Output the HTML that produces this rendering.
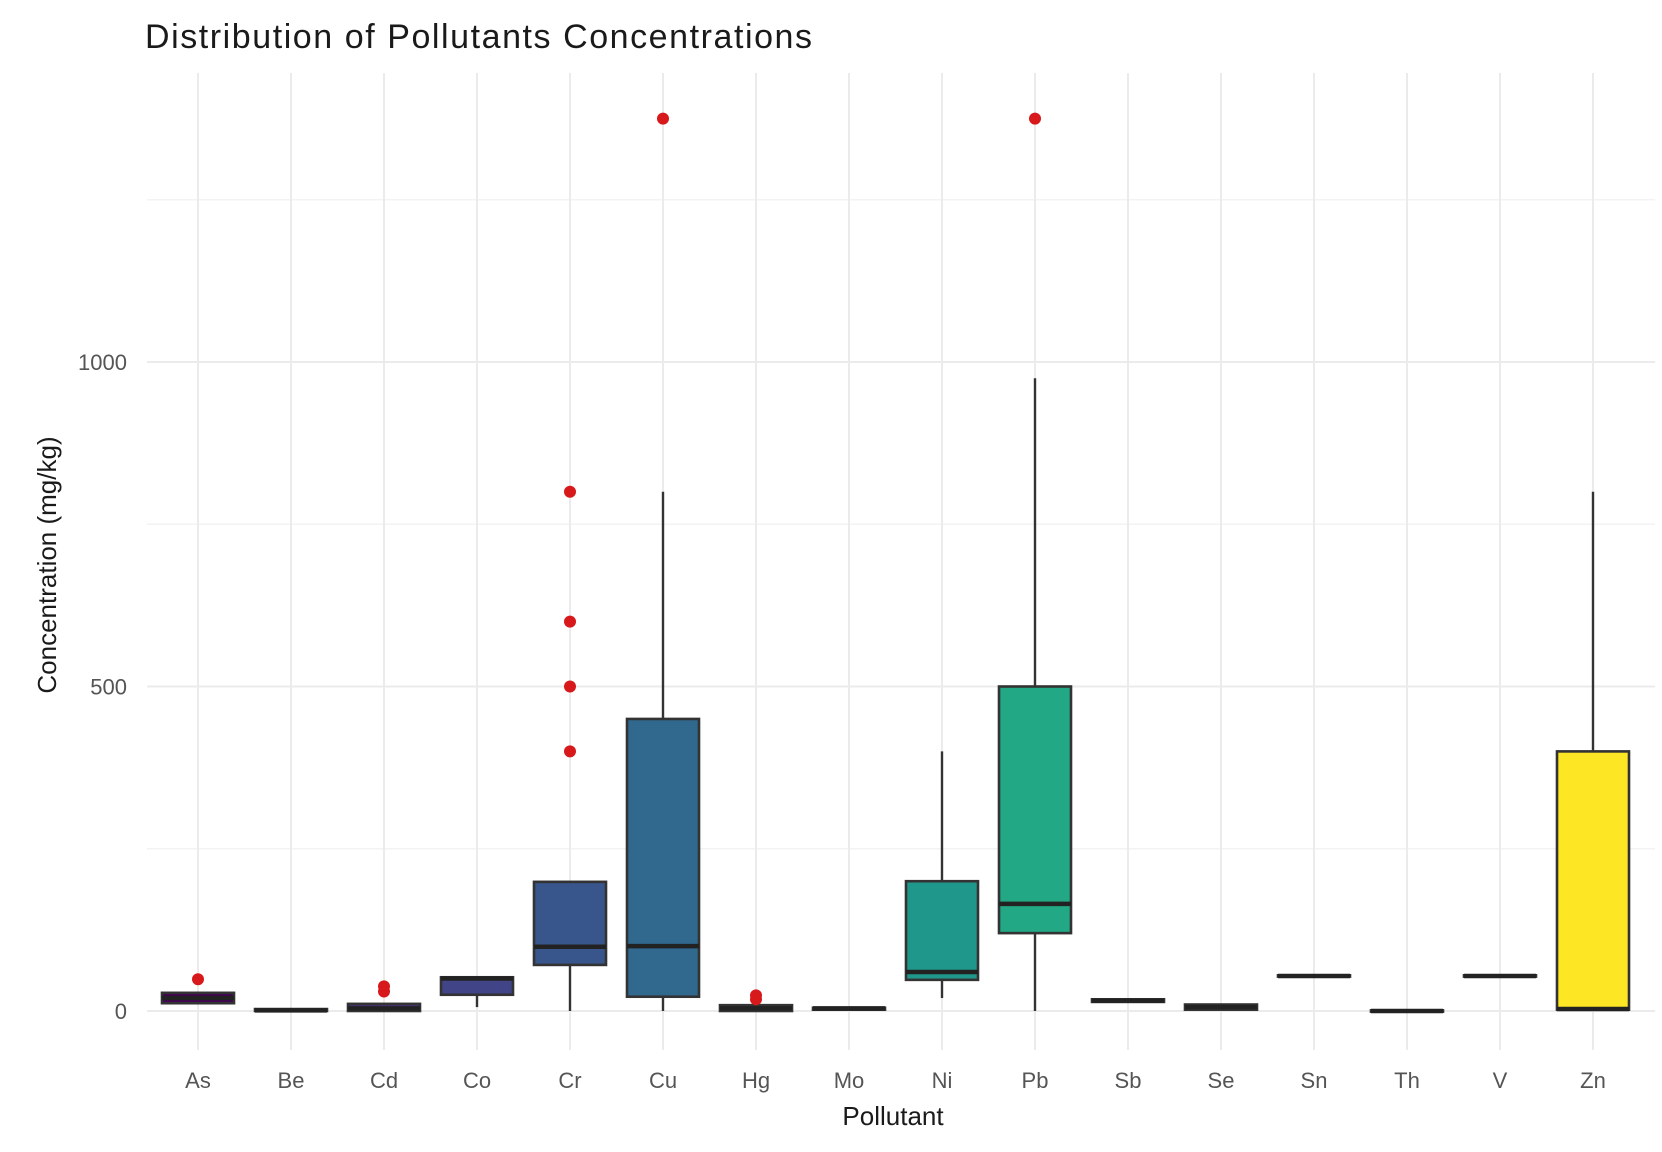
<!DOCTYPE html>
<html><head><meta charset="utf-8"><style>
html,body{margin:0;padding:0;background:#fff;}
svg{display:block;font-family:"Liberation Sans",sans-serif;}
</style></head><body>
<svg id="chart" width="1662" height="1152" viewBox="0 0 1662 1152">
<text x="145" y="48" font-size="34" fill="#1a1a1a" textLength="667">Distribution of Pollutants Concentrations</text>
<g id="grid"></g>
<g id="marks"></g>
<g id="axes"></g>
<text x="893" y="1125" font-size="26" fill="#1a1a1a" text-anchor="middle">Pollutant</text>
<text transform="translate(56,565) rotate(-90)" font-size="26" fill="#1a1a1a" text-anchor="middle">Concentration (mg/kg)</text>
</svg>
<script>
const categories=["As","Be","Cd","Co","Cr","Cu","Hg","Mo","Ni","Pb","Sb","Se","Sn","Th","V","Zn"];
const whiskerLow=[12,0,0,6,0,0,0,2,20,0,14,2,53,-1,53,0];
const q1=[12,0,0,25,71,22,0,2,48,120,14,2,53,-1,53,2];
const medians=[20,1,4,50,99,100,4,4,60,165,16,6,54,0,54,3];
const q3=[28,3,11,52,199,450,9,5,200,500,18,10,55,1,55,400];
const whiskerHigh=[30,3,12,52,199,800,10,5,400,975,18,10,55,1,55,800];
const outliers=[[49],[],[30,38],[],[400,500,600,800],[1375],[18,24],[],[],[1375],[],[],[],[],[],[]];
const colors=["#440154","#481a6c","#472f7d","#414487","#39568c","#31688e","#2a788e","#23888e","#1f988b","#22a884","#35b779","#54c568","#7ad151","#a5db36","#d2e21b","#fde725"];
const yTicks=[0,500,1000];
const yMinor=[250,750,1250];

const NS="http://www.w3.org/2000/svg";
const x=i=>198+i*93;
const y=v=>1011-v*0.649;
const bw=72;
function mk(tag,attrs,parent){const e=document.createElementNS(NS,tag);for(const k in attrs)e.setAttribute(k,attrs[k]);parent.appendChild(e);return e;}
const grid=document.getElementById('grid'),marks=document.getElementById('marks'),axes=document.getElementById('axes');
yMinor.forEach(v=>{const l=mk('line',{x1:147,x2:1655,y1:y(v),y2:y(v),stroke:'#f3f3f3','stroke-width':1.5},grid);

});
yTicks.forEach(v=>{const l=mk('line',{x1:147,x2:1655,y1:y(v),y2:y(v),stroke:'#ebebeb','stroke-width':2},grid);


const t=mk('text',{x:127,y:y(v)+8,'font-size':22,fill:'#555','text-anchor':'end'},axes);t.textContent=v;

});
categories.forEach((c,i)=>{
const g=mk('line',{x1:x(i),x2:x(i),y1:73,y2:1050,stroke:'#ebebeb','stroke-width':2},grid);


const grp=mk('g',{},marks);


mk('line',{x1:x(i),x2:x(i),y1:y(whiskerLow[i]),y2:y(q1[i]),stroke:'#333','stroke-width':2.4},grp);
mk('line',{x1:x(i),x2:x(i),y1:y(q3[i]),y2:y(whiskerHigh[i]),stroke:'#333','stroke-width':2.4},grp);
const top=y(q3[i]),bot=y(q1[i]);
mk('rect',{x:x(i)-bw/2,y:top,width:bw,height:Math.max(bot-top,0.5),fill:colors[i],stroke:'#333','stroke-width':2.6},grp);
mk('line',{x1:x(i)-bw/2,x2:x(i)+bw/2,y1:y(medians[i]),y2:y(medians[i]),stroke:'#222','stroke-width':4.5},grp);
outliers[i].forEach(o=>{const p=mk('circle',{cx:x(i),cy:y(o),r:6,fill:'#d7191c'},grp);

});
const t=mk('text',{x:x(i),y:1088,'font-size':22,fill:'#555','text-anchor':'middle'},axes);t.textContent=c;


});
</script>
</body></html>
